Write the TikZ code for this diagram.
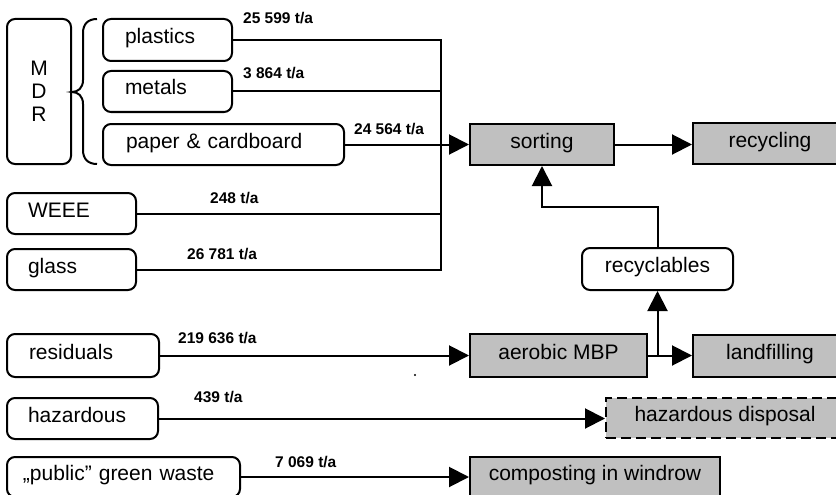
\documentclass[tikz,border=0pt]{standalone}
\usepackage{fontspec}
\setmainfont{Liberation Sans}
\usetikzlibrary{arrows.meta}
\definecolor{procgray}{HTML}{C0C0C0}
\tikzset{
  box/.style={draw, line width=2pt, inner sep=0pt,
    font=\fontsize{21}{25}\selectfont, text height=12pt, text depth=5pt},
  srcbox/.style={box, rounded corners=8pt, align=left},
  midbox/.style={box, rounded corners=8pt, align=center},
  procbox/.style={box, fill=procgray, align=center},
  flow/.style={line width=2pt},
  feed/.style={flow, -{Triangle[length=20pt,width=20pt]}},
  qty/.style={font=\fontsize{15.5}{18}\selectfont\bfseries, anchor=base west, inner sep=0pt},
}
\begin{document}
\begin{tikzpicture}[x=1pt, y=-1pt]
\useasboundingbox (0,0) rectangle (836,495);

% material groups collected separately
\node[draw, line width=2pt, rounded corners=8pt, minimum width=64pt, minimum height=145pt,
  inner sep=0pt, align=center, font=\fontsize{21}{23}\selectfont] (mdr) at (39,91.5) {M\\D\\R};
\draw[line width=2pt] (97,19) .. controls (88,19) and (83,24) .. (83,33) -- (83,80)
  .. controls (83,88) and (78,92) .. (72,92) .. controls (78,92) and (83,96) .. (83,104)
  -- (83,150) .. controls (83,159) and (88,164) .. (97,164);

% source fractions
\node[srcbox, minimum width=129pt, minimum height=42pt, text width=85pt, inner xsep=22pt] (plastics) at (167.5,40) {plastics};
\node[srcbox, minimum width=129pt, minimum height=41pt, text width=85pt, inner xsep=22pt] (metals) at (167.5,91.5) {metals};
\node[srcbox, minimum width=241pt, minimum height=41pt, text width=195pt, inner xsep=23pt] (paper) at (223.5,144.5) {paper \& cardboard};
\node[srcbox, minimum width=129pt, minimum height=41pt, text width=87pt, inner xsep=21pt] (weee) at (71.5,213.5) {WEEE};
\node[srcbox, minimum width=129pt, minimum height=41pt, text width=87pt, inner xsep=21pt] (glass) at (71.5,269.5) {glass};
\node[srcbox, minimum width=152pt, minimum height=43pt, text width=108pt, inner xsep=22pt] (residuals) at (83,355.5) {residuals};
\node[srcbox, minimum width=151pt, minimum height=41pt, text width=109pt, inner xsep=21pt] (hazardous) at (82.5,418.5) {hazardous};
\node[srcbox, minimum width=233pt, minimum height=40pt, text width=201pt, inner xsep=16pt] (green) at (123.5,477) {„public” green waste};

% treatment steps
\node[procbox, minimum width=144pt, minimum height=41pt] (sorting) at (542,144.5) {sorting};
\node[procbox, minimum width=154pt, minimum height=41pt] (recycling) at (770,143.5) {recycling};
\node[midbox, minimum width=151pt, minimum height=42pt] (recyclables) at (657.5,269) {recyclables};
\node[procbox, minimum width=177pt, minimum height=43pt] (mbp) at (558.5,355.5) {aerobic MBP};
\node[procbox, minimum width=154pt, minimum height=42pt] (landfill) at (770,356) {landfilling};
\node[procbox, dashed, dash pattern=on 10pt off 5pt, minimum width=238pt, minimum height=40pt] (hazdisp) at (725,418) {hazardous disposal};
\node[procbox, minimum width=250pt, minimum height=40pt] (compost) at (595,477) {composting in windrow};

% collector line for the separately collected fractions
\coordinate (hub) at (441,144.5);
\draw[flow] (plastics.east) -- (plastics.east -| hub) |- (glass.east);
\draw[flow] (metals.east) -- (metals.east -| hub);
\draw[flow] (weee.east) -- (weee.east -| hub);
\draw[feed] (paper.east) -- (sorting.west);
\draw[feed] (sorting.east) -- (sorting.east -| recycling.west);

% residual waste treatment
\draw[feed] (residuals.east) -- (mbp.west);
\draw[feed] (mbp.east) -- (mbp.east -| landfill.west);
\coordinate (split) at (recyclables.south |- mbp.east);
\draw[feed] (split) -- (recyclables.south);
\coordinate (bend) at (657.5,207);
\draw[feed] (recyclables.north) -- (bend) -| (sorting.south);

\draw[feed] (hazardous.east) -- (hazardous.east -| hazdisp.west);
\draw[feed] (green.east) -- (compost.west);

% quantities
\node[qty] (q1) at (243,24) {25 599 t/a};
\node[qty] (q2) at (243,78) {3 864 t/a};
\node[qty] (q3) at (354,135) {24 564 t/a};
\node[qty] (q4) at (210,203) {248 t/a};
\node[qty] (q5) at (187,259) {26 781 t/a};
\node[qty] (q6) at (178,343) {219 636 t/a};
\node[qty] (q7) at (194,402) {439 t/a};
\node[qty] (q8) at (275,467) {7 069 t/a};

\fill (415,375) circle (1.2pt);
\end{tikzpicture}
\end{document}
